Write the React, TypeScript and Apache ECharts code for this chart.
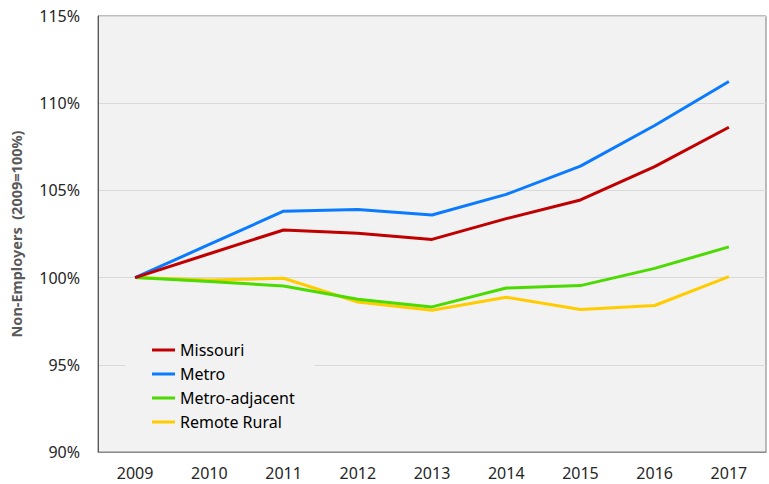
import React, { useEffect, useRef } from "react";
import * as echarts from "echarts";

const years = ["2009", "2010", "2011", "2012", "2013", "2014", "2015", "2016", "2017"];
const missouri = [100, 101.37, 102.73, 102.54, 102.19, 103.38, 104.45, 106.36, 108.62];
const metro = [100, 101.9, 103.81, 103.91, 103.59, 104.77, 106.39, 108.72, 111.24];
const metroAdjacent = [100, 99.77, 99.52, 98.76, 98.32, 99.4, 99.54, 100.53, 101.76];
const remoteRural = [100, 99.86, 99.96, 98.6, 98.13, 98.87, 98.17, 98.4, 100.06];
const seriesNames = ["Missouri", "Metro", "Metro-adjacent", "Remote Rural"];
const seriesColors = ["#C00000", "#0A7BFF", "#4CDB00", "#FFCC00"];

export default function App() {
  const ref = useRef<HTMLDivElement>(null);
  useEffect(() => {
    if (!ref.current) return;
    const chart = echarts.init(ref.current, undefined, { renderer: "svg" });
    const values = [missouri, metro, metroAdjacent, remoteRural];
    const font = "'Noto Sans', sans-serif";
    chart.setOption({
      animation: false,
      backgroundColor: "#ffffff",
      textStyle: { fontFamily: font },
      grid: {
        left: 96,
        right: 3,
        top: 16,
        bottom: 32,
        show: true,
        backgroundColor: "#f2f2f2",
        borderColor: "#7a7a7a",
        borderWidth: 1,
      },
      legend: {
        orient: "vertical",
        left: 125,
        top: 338,
        padding: [4, 20, 6, 27],
        backgroundColor: "#f2f2f2",
        icon: "rect",
        itemWidth: 23,
        itemHeight: 3,
        itemGap: 8,
        data: seriesNames,
        textStyle: { fontFamily: font, fontSize: 16, lineHeight: 16, color: "#000" },
      },
      xAxis: {
        type: "category",
        data: years,
        boundaryGap: true,
        axisLine: { show: true, lineStyle: { color: "#8c8c8c", width: 1 } },
        axisTick: { show: false },
        axisLabel: { fontFamily: font, fontSize: 16, color: "#262626", margin: 13 },
      },
      yAxis: {
        type: "value",
        min: 90,
        max: 115,
        interval: 5,
        name: "Non-Employers  (2009=100%)",
        nameLocation: "middle",
        nameGap: 75,
        nameTextStyle: { fontFamily: font, fontSize: 14.5, fontWeight: "bold", color: "#595959" },
        axisLine: { show: true, lineStyle: { color: "#595959", width: 1 } },
        axisTick: { show: false },
        axisLabel: {
          fontFamily: font,
          fontSize: 16,
          color: "#262626",
          margin: 18,
          formatter: (v: number) => `${v}%`,
        },
        splitLine: { show: true, lineStyle: { color: "#d9d9d9", width: 1 } },
      },
      series: seriesNames.map((name, i) => ({
        name,
        type: "line",
        data: values[i],
        symbol: "none",
        color: seriesColors[i],
        lineStyle: { width: 3, color: seriesColors[i] },
        z: 2 + (3 - i),
      })),
    });
    return () => chart.dispose();
  }, []);
  return <div ref={ref} style={{ width: 769, height: 484, position: "absolute", left: 0, top: 0 }} />;
}
